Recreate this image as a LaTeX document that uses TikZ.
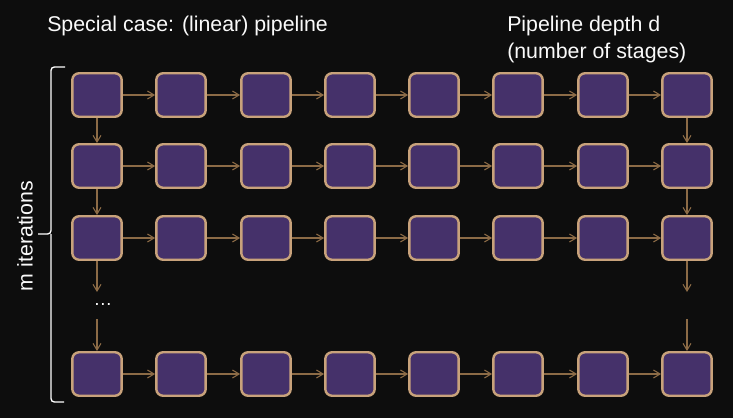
\documentclass[tikz,border=0pt]{standalone}
\usepackage{fontspec}
\setmainfont{Liberation Sans}
\usetikzlibrary{arrows.meta}
\definecolor{bgdark}{HTML}{0D0D0D}
\definecolor{stagefill}{HTML}{45316A}
\definecolor{stageedge}{HTML}{C8A27B}
\definecolor{flowline}{HTML}{8C6B46}
\definecolor{txt}{HTML}{FAFAFA}
\begin{document}
\begin{tikzpicture}[x=0.75pt, y=-0.75pt,
  font=\fontsize{16}{20}\selectfont, text=txt,
  stage/.style={draw=stageedge, fill=stagefill, line width=1.8pt, rounded corners=5pt,
    minimum width=37pt, minimum height=32.6pt, inner sep=0pt},
  flow/.style={draw=flowline, line width=0.8pt, -{Straight Barb[length=5pt, width=6pt]}}]
  % 배경 (그림 크기 고정)
  \fill[bgdark] (0,0) rectangle (733,418);
  \useasboundingbox (0,0) rectangle (733,418);
  % 제목
  \node[anchor=base west, inner sep=0pt] (title) at (47,31) {Special case: (linear) pipeline};
  \node[anchor=base west, align=left, inner sep=0pt] (depth) at (507,58)
    {Pipeline depth d\\(number of stages)};
  % 행 k · 열 i: x = 97 + 84.3(i-1)
  \node[stage] (r1c1) at (97,95) {};  \node[stage] (r1c2) at (181,95) {}; \node[stage] (r1c3) at (266,95) {};
  \node[stage] (r1c4) at (350,95) {}; \node[stage] (r1c5) at (434,95) {}; \node[stage] (r1c6) at (518,95) {};
  \node[stage] (r1c7) at (603,95) {}; \node[stage] (r1c8) at (687,95) {};
  \node[stage] (r2c1) at (97,166) {};  \node[stage] (r2c2) at (181,166) {}; \node[stage] (r2c3) at (266,166) {};
  \node[stage] (r2c4) at (350,166) {}; \node[stage] (r2c5) at (434,166) {}; \node[stage] (r2c6) at (518,166) {};
  \node[stage] (r2c7) at (603,166) {}; \node[stage] (r2c8) at (687,166) {};
  \node[stage] (r3c1) at (97,238) {};  \node[stage] (r3c2) at (181,238) {}; \node[stage] (r3c3) at (266,238) {};
  \node[stage] (r3c4) at (350,238) {}; \node[stage] (r3c5) at (434,238) {}; \node[stage] (r3c6) at (518,238) {};
  \node[stage] (r3c7) at (603,238) {}; \node[stage] (r3c8) at (687,238) {};
  \node[stage] (r4c1) at (97,374) {};  \node[stage] (r4c2) at (181,374) {}; \node[stage] (r4c3) at (266,374) {};
  \node[stage] (r4c4) at (350,374) {}; \node[stage] (r4c5) at (434,374) {}; \node[stage] (r4c6) at (518,374) {};
  \node[stage] (r4c7) at (603,374) {}; \node[stage] (r4c8) at (687,374) {};
  % 가로 화살표
  \draw[flow] (r1c1) -- (r1c2); \draw[flow] (r1c2) -- (r1c3); \draw[flow] (r1c3) -- (r1c4); \draw[flow] (r1c4) -- (r1c5);
  \draw[flow] (r1c5) -- (r1c6); \draw[flow] (r1c6) -- (r1c7); \draw[flow] (r1c7) -- (r1c8);
  \draw[flow] (r2c1) -- (r2c2); \draw[flow] (r2c2) -- (r2c3); \draw[flow] (r2c3) -- (r2c4); \draw[flow] (r2c4) -- (r2c5);
  \draw[flow] (r2c5) -- (r2c6); \draw[flow] (r2c6) -- (r2c7); \draw[flow] (r2c7) -- (r2c8);
  \draw[flow] (r3c1) -- (r3c2); \draw[flow] (r3c2) -- (r3c3); \draw[flow] (r3c3) -- (r3c4); \draw[flow] (r3c4) -- (r3c5);
  \draw[flow] (r3c5) -- (r3c6); \draw[flow] (r3c6) -- (r3c7); \draw[flow] (r3c7) -- (r3c8);
  \draw[flow] (r4c1) -- (r4c2); \draw[flow] (r4c2) -- (r4c3); \draw[flow] (r4c3) -- (r4c4); \draw[flow] (r4c4) -- (r4c5);
  \draw[flow] (r4c5) -- (r4c6); \draw[flow] (r4c6) -- (r4c7); \draw[flow] (r4c7) -- (r4c8);
  % 세로 화살표 (첫 열과 끝 열만)
  \draw[flow] (r1c1) -- (r2c1); \draw[flow] (r2c1) -- (r3c1);
  \draw[flow] (r1c8) -- (r2c8); \draw[flow] (r2c8) -- (r3c8);
  % 끊긴 부분
  \coordinate (gapa1) at (97,292); \coordinate (gapb1) at (97,319);
  \coordinate (gapa8) at (687,292); \coordinate (gapb8) at (687,319);
  \node[inner sep=0pt, font=\fontsize{14}{16}\selectfont] (skip) at (103,304) {\dots};
  \draw[flow] (r3c1) -- (gapa1); \draw[flow] (gapb1) -- (r4c1);
  \draw[flow] (r3c8) -- (gapa8); \draw[flow] (gapb8) -- (r4c8);
  % 왼쪽 괄호
  \draw[white, line width=1pt, rounded corners=2.5pt]
    (65,67) -| (51,234) -- (38,234) (51,234) |- (64,402);
  \node[rotate=90, inner sep=0pt] (iters) at (25,236) {m iterations};
\end{tikzpicture}
\end{document}
